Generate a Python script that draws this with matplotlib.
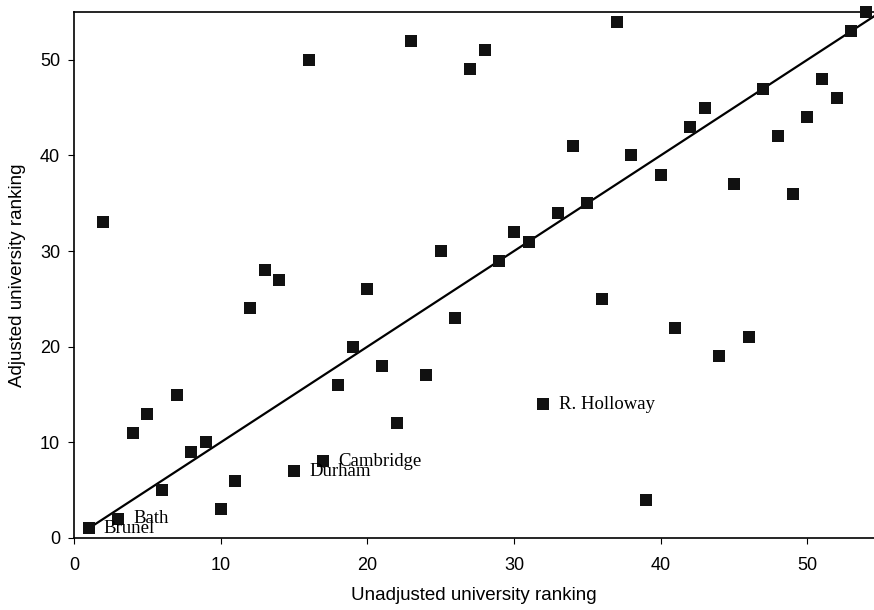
import matplotlib
matplotlib.use("Agg")
import matplotlib.pyplot as plt
import numpy as np

unadjusted = list(range(1, 56))
adjusted = [1, 33, 2, 11, 13, 5, 15, 9, 10, 3,
            6, 24, 28, 27, 7, 50, 8, 16, 20, 26,
            18, 12, 52, 17, 30, 23, 49, 51, 29, 32,
            31, 14, 34, 41, 35, 25, 54, 40, 4, 38,
            22, 43, 45, 19, 37, 21, 47, 42, 36, 44,
            48, 46, 53, 55, 39]
labels = {1: "Brunel", 3: "Bath", 15: "Durham", 17: "Cambridge", 32: "R. Holloway"}
x_ticks = [0, 10, 20, 30, 40, 50]
y_ticks = [0, 10, 20, 30, 40, 50]

fig = plt.figure(figsize=(8.74, 6.10), dpi=100)
ax = fig.add_axes([74/874, 72/610, 1 - 74/874, (538 - 12)/610])

x = np.array(unadjusted)
y = np.array(adjusted)
ax.plot([x.min(), x.max()], [x.min(), x.max()], color="black", lw=1.6, zorder=2)
ax.scatter(x, y, marker="s", s=70, color="#111111", zorder=3, clip_on=False, linewidths=0)

for k, name in labels.items():
    ax.annotate(name, (k, adjusted[k - 1]), xytext=(11, 0), textcoords="offset points",
                va="center", ha="left", fontsize=13.5, family="Liberation Serif")

ax.set_xlim(0, 54.55)
ax.set_ylim(0, 55)
ax.set_xticks(x_ticks)
ax.set_yticks(y_ticks)
for lab in ax.get_xticklabels() + ax.get_yticklabels():
    lab.set_family("Liberation Sans")
    lab.set_fontsize(13)
ax.tick_params(axis="x", length=4, pad=10, direction="out")
ax.tick_params(axis="y", length=4, pad=6, direction="out")
ax.spines["right"].set_visible(False)
for s in ["left", "bottom", "top"]:
    ax.spines[s].set_linewidth(1.2)

ax.set_xlabel("Unadjusted university ranking", family="Liberation Sans", fontsize=13.5, labelpad=9)
ax.set_ylabel("Adjusted university ranking", family="Liberation Sans", fontsize=13.5, labelpad=10)

fig.savefig("out.png", dpi=100)
